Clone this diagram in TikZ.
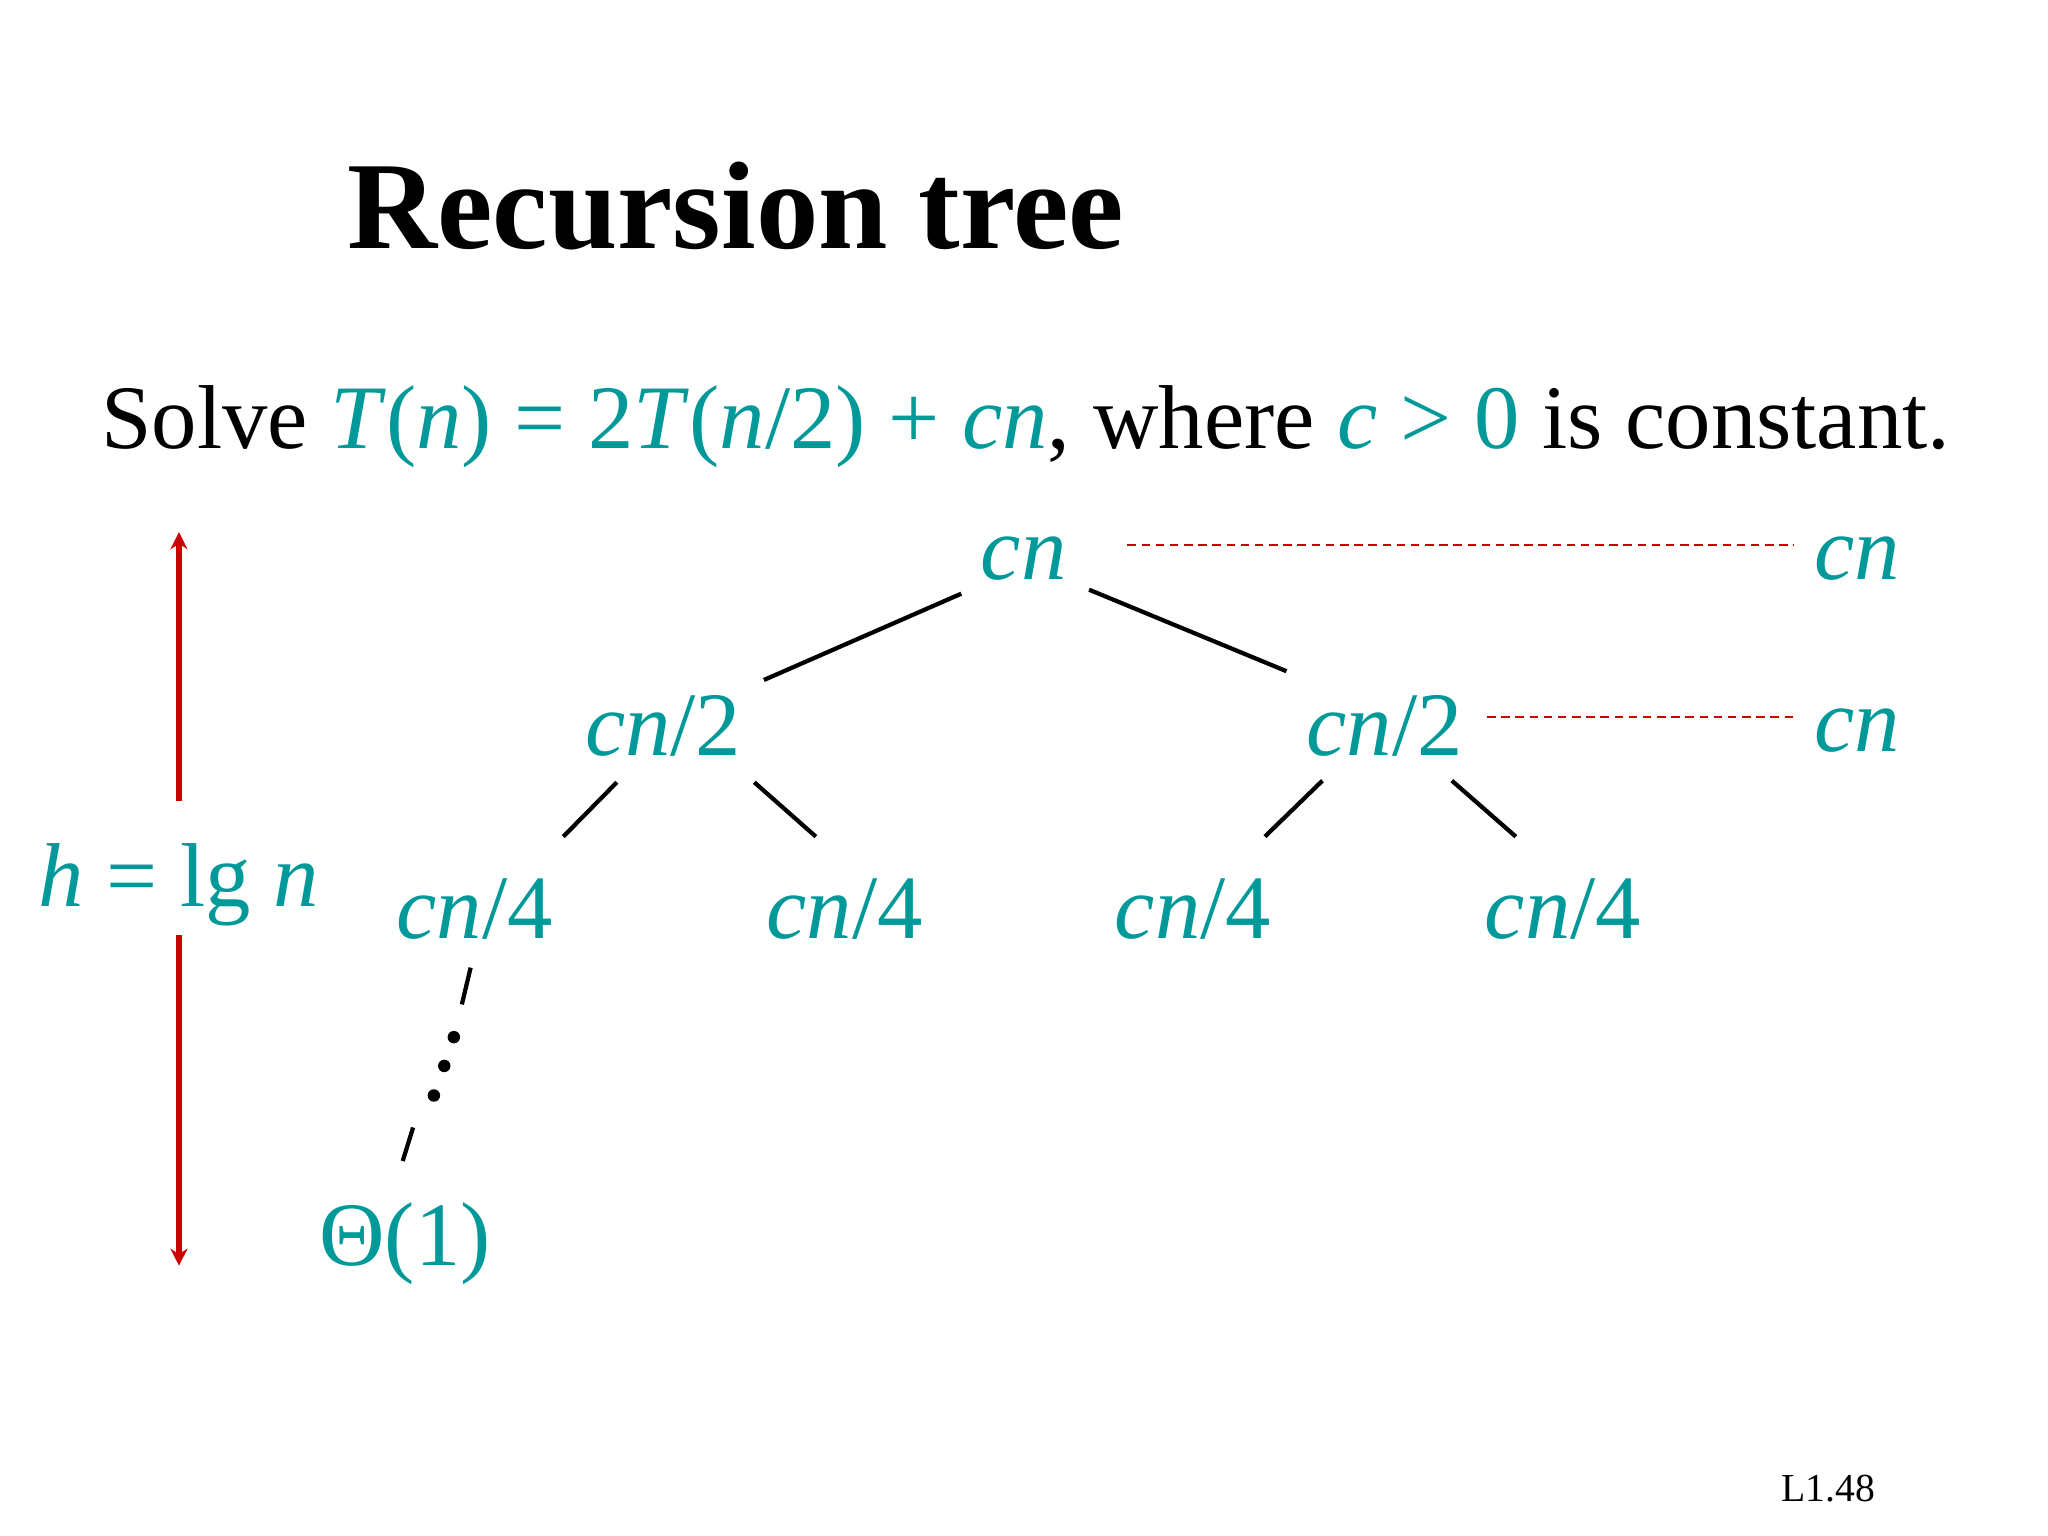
\documentclass[tikz,border=0pt]{standalone}
\usepackage{fontspec}
\setmainfont{Liberation Serif}
\usepackage{xcolor}
\definecolor{teal}{HTML}{009999}
\definecolor{darkred}{HTML}{CC0000}
\tikzset{
	lbl/.style={teal, inner sep=1pt, anchor=base, font=\fontsize{32}{38}\selectfont},
	edge/.style={black, line width=1.5pt},
	sumline/.style={darkred, line width=0.8pt, dash pattern=on 3pt off 2pt},
	hgt/.style={darkred, line width=2pt, -{Stealth[length=6pt,width=6pt]}}
}
\usetikzlibrary{arrows.meta}
\begin{document}
\begin{tikzpicture}[x=0.991cm, y=0.991cm]
	\useasboundingbox[fill=white] (0,0) rectangle (25.4cm,-19.05cm);
	\node[anchor=base, font=\fontsize{44}{50}\selectfont\bfseries] (title) at (9.21,-3.11) {Recursion tree};
	\node[anchor=base west, inner sep=0pt, font=\fontsize{32}{38}\selectfont] (task) at (1.26,-5.61)
	{Solve \textcolor{teal}{\textit{T}(\textit{n}) = 2\textit{T}(\textit{n}/2) + \textit{cn}}, where \textcolor{teal}{\textit{c} > 0} is constant.};
	% tree
	\node[lbl] (root) at (12.81,-7.25) {\textit{cn}};
	\node[lbl] (l) at (8.30,-9.46) {\textit{cn}/2};
	\node[lbl] (r) at (17.33,-9.46) {\textit{cn}/2};
	\node[lbl] (ll) at (5.94,-11.75) {\textit{cn}/4};
	\node[lbl] (lr) at (10.57,-11.75) {\textit{cn}/4};
	\node[lbl] (rl) at (14.93,-11.75) {\textit{cn}/4};
	\node[lbl] (rr) at (19.56,-11.75) {\textit{cn}/4};
	\node[lbl] (leaf) at (5.07,-15.84) {Θ(1)};
	\node[lbl] (sum0) at (23.24,-7.25) {\textit{cn}};
	\node[lbl] (sum1) at (23.24,-9.41) {\textit{cn}};
	\draw[edge] (12.03,-7.43) -- (9.56,-8.51);
	\draw[edge] (13.63,-7.38) -- (16.10,-8.40);
	\draw[edge] (7.72,-9.79) -- (7.05,-10.47);
	\draw[edge] (9.44,-9.79) -- (10.21,-10.47);
	\draw[edge] (16.55,-9.77) -- (15.83,-10.47);
	\draw[edge] (18.17,-9.77) -- (18.97,-10.47);
	\draw[edge] (5.89,-12.11) -- (5.78,-12.57);
	\draw[edge] (5.17,-14.11) -- (5.04,-14.53);
	\foreach \x/\y in {5.68/-12.98, 5.56/-13.34, 5.43/-13.71}
	\fill (\x,\y) circle (2.2pt);
	\draw[sumline] (14.11,-6.82) -- (22.45,-6.82);
	\draw[sumline] (18.61,-8.97) -- (22.45,-8.97);
	% height
	\node[lbl] (h) at (2.24,-11.34) {\textit{h} = lg \textit{n}};
	\coordinate (htop) at (2.24,-6.66);
	\coordinate (hbot) at (2.24,-15.84);
	\draw[hgt] (2.24,-10.02) -- (htop);
	\draw[hgt] (2.24,-11.70) -- (hbot);
	\node[anchor=base, font=\fontsize{14}{16}\selectfont] (page) at (22.88,-18.79) {L1.48};
\end{tikzpicture}
\end{document}
